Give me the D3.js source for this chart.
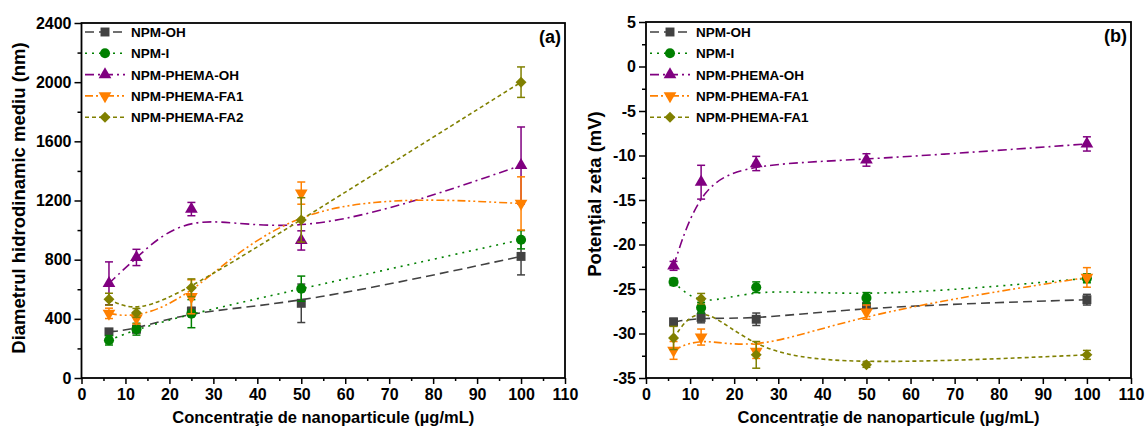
<!DOCTYPE html>
<html>
<head>
<meta charset="utf-8">
<script src="https://cdn.jsdelivr.net/npm/d3@7"></script>
<style>
  body { margin: 0; background: #fff; }
  svg text { font-family: "Liberation Sans", Arial, sans-serif; font-weight: bold; }
</style>
</head>
<body>
<svg id="chart" width="1148" height="429"></svg>
<script>
// concentratii (ug/mL)
const conc = [6.25, 12.5, 25, 50, 100];
const names = ["NPM-OH", "NPM-I", "NPM-PHEMA-OH", "NPM-PHEMA-FA1", "NPM-PHEMA-FA2"];
const namesB = ["NPM-OH", "NPM-I", "NPM-PHEMA-OH", "NPM-PHEMA-FA1", "NPM-PHEMA-FA1"];

// (a) diametru hidrodinamic (nm)
const dhOH = [312, 330, 452, 505, 822];
const dhOHerr = [15, 25, 25, 130, 125];
const dhI = [255, 330, 435, 604, 935];
const dhIerr = [32, 40, 95, 85, 62];
const dhPhemaOH = [640, 815, 1142, 930, 1437];
const dhPhemaOHerr = [145, 55, 45, 65, 260];
const dhFA1 = [437, 405, 549, 1250, 1180];
const dhFA1err = [35, 40, 115, 75, 180];
const dhFA2 = [533, 440, 610, 1069, 2000];
const dhFA2err = [40, 30, 60, 150, 103];

// (b) potential zeta (mV)
const zOH = [-28.7, -28.2, -28.4, -27.0, -26.2];
const zOHerr = [0.4, 0.6, 0.7, 0.5, 0.6];
const zI = [-24.2, -27.1, -24.8, -26.0, -23.8];
const zIerr = [0.4, 0.6, 0.6, 0.6, 0.5];
const zPhemaOH = [-22.4, -13.0, -10.9, -10.5, -8.7];
const zPhemaOHerr = [0.5, 1.9, 0.8, 0.7, 0.8];
const zFA1 = [-31.9, -30.4, -32.0, -27.6, -23.7];
const zFA1err = [1.0, 0.9, 0.8, 0.8, 1.1];
const zFA2 = [-30.5, -26.1, -32.4, -33.5, -32.4];
const zFA2err = [1.3, 0.6, 1.5, 0.3, 0.5];

const xTicks = d3.range(0, 111, 10);
const yTicksA = d3.range(0, 2401, 400);
const yTicksB = d3.range(-35, 6, 5);

// stiluri serii
const colors = ["#424242", "#008000", "#800080", "#ff8000", "#808000"];
const dashes = ["9,5", "2,5", "9,4,2,4", "8,3,2,3,2,3", "4,3"];
const symbols = [
  d3.symbol().type(d3.symbolSquare).size(80),
  d3.symbol().type(d3.symbolCircle).size(80),
  d3.symbol().type(d3.symbolTriangle).size(70),
  d3.symbol().type(d3.symbolTriangle).size(70),
  d3.symbol().type(d3.symbolSquare).size(60)
];
const rotations = [0, 0, 0, 180, 45];
const fmt = d => String(d);

const svg = d3.select("#chart");

function drawPanel(cfg) {
  const g = svg.append("g");
  const x = d3.scaleLinear().domain([0, 110]).range(cfg.xr);
  const y = d3.scaleLinear().domain(cfg.yd).range(cfg.yr);

  // axa X, ticks majore si minore
  g.append("g").attr("transform", `translate(0,${cfg.yr[0]})`)
    .call(d3.axisBottom(x).tickValues(d3.range(5, 111, 10)).tickSize(3).tickFormat(""))
    .call(a => a.select(".domain").remove());
  g.append("g").attr("transform", `translate(0,${cfg.yr[0]})`)
    .call(d3.axisBottom(x).tickValues(xTicks).tickSize(6).tickPadding(5).tickFormat(fmt))
    .call(a => a.select(".domain").remove())
    .call(a => a.selectAll("text").attr("font-size", 16).attr("fill", "#000"));

  // axa Y
  g.append("g").attr("transform", `translate(${cfg.xr[0]},0)`)
    .call(d3.axisLeft(y).tickValues(cfg.yMinor).tickSize(4).tickFormat(""))
    .call(a => a.select(".domain").remove());
  g.append("g").attr("transform", `translate(${cfg.xr[0]},0)`)
    .call(d3.axisLeft(y).tickValues(cfg.yTicks).tickSize(7).tickPadding(3).tickFormat(fmt))
    .call(a => a.select(".domain").remove())
    .call(a => a.selectAll("text").attr("font-size", 16).attr("fill", "#000"));
  g.selectAll(".tick line").attr("stroke", "#000").attr("stroke-width", 1.5);

  g.append("rect")
    .attr("x", cfg.xr[0]).attr("y", cfg.yr[1])
    .attr("width", cfg.xr[1] - cfg.xr[0]).attr("height", cfg.yr[0] - cfg.yr[1])
    .attr("fill", "none").attr("stroke", "#000").attr("stroke-width", 1.8);

  // curbe B-spline
  const line = d3.line().x(d => x(d[0])).y(d => y(d[1])).curve(d3.curveBasis);
  cfg.series.forEach((s, i) => {
    g.append("path")
      .datum(conc.map((c, k) => [c, s.v[k]]))
      .attr("d", line)
      .attr("fill", "none")
      .attr("stroke", colors[i])
      .attr("stroke-width", 1.6)
      .attr("stroke-dasharray", dashes[i]);
  });

  // bare de eroare + markeri
  cfg.series.forEach((s, i) => {
    const eg = g.append("g").attr("stroke", colors[i]).attr("stroke-width", 1.5);
    conc.forEach((c, k) => {
      const cx = x(c), y1 = y(s.v[k] + s.e[k]), y2 = y(s.v[k] - s.e[k]);
      eg.append("line").attr("x1", cx).attr("x2", cx).attr("y1", y1).attr("y2", y2);
      eg.append("line").attr("x1", cx - 4).attr("x2", cx + 4).attr("y1", y1).attr("y2", y1);
      eg.append("line").attr("x1", cx - 4).attr("x2", cx + 4).attr("y1", y2).attr("y2", y2);
    });
    g.selectAll(null).data(conc).enter().append("path")
      .attr("d", symbols[i])
      .attr("transform", (c, k) => `translate(${x(c)},${y(s.v[k])}) rotate(${rotations[i]})`)
      .attr("fill", colors[i]);
  });

  // legenda
  const lg = g.append("g");
  cfg.names.forEach((n, i) => {
    const ly = cfg.legY + i * 21.3;
    lg.append("line")
      .attr("x1", cfg.legX).attr("x2", cfg.legX + 40)
      .attr("y1", ly).attr("y2", ly)
      .attr("stroke", colors[i]).attr("stroke-width", 1.6)
      .attr("stroke-dasharray", dashes[i]);
    lg.append("path").attr("d", symbols[i])
      .attr("transform", `translate(${cfg.legX + 20},${ly}) rotate(${rotations[i]})`)
      .attr("fill", colors[i]);
    lg.append("text").attr("x", cfg.legX + 46).attr("y", ly + 5)
      .attr("font-size", 13.5).text(n);
  });

  g.append("text").attr("x", cfg.xr[1] - 4).attr("y", cfg.yr[1] + 20)
    .attr("text-anchor", "end").attr("font-size", 18).text(cfg.tag);

  g.append("text")
    .attr("x", (cfg.xr[0] + cfg.xr[1]) / 2).attr("y", 423)
    .attr("text-anchor", "middle").attr("font-size", 16.5)
    .text("Concentraţie de nanoparticule (µg/mL)");

  g.append("text")
    .attr("transform", `translate(${cfg.yLabX},${cfg.yLabY}) rotate(-90)`)
    .attr("text-anchor", "middle").attr("font-size", 18.5)
    .text(cfg.yLabel);
}

drawPanel({
  xr: [81.5, 565], yr: [378, 23], yd: [0, 2400],
  yTicks: yTicksA, yMinor: d3.range(200, 2400, 400),
  series: [
    { v: dhOH, e: dhOHerr }, { v: dhI, e: dhIerr }, { v: dhPhemaOH, e: dhPhemaOHerr },
    { v: dhFA1, e: dhFA1err }, { v: dhFA2, e: dhFA2err }
  ],
  names: names, legX: 85, legY: 32, tag: "(a)",
  yLabX: 25, yLabY: 198, yLabel: "Diametrul hidrodinamic mediu (nm)"
});

drawPanel({
  xr: [646, 1131], yr: [378, 22], yd: [-35, 5],
  yTicks: yTicksB, yMinor: d3.range(-32.5, 5, 5),
  series: [
    { v: zOH, e: zOHerr }, { v: zI, e: zIerr }, { v: zPhemaOH, e: zPhemaOHerr },
    { v: zFA1, e: zFA1err }, { v: zFA2, e: zFA2err }
  ],
  names: namesB, legX: 650, legY: 32, tag: "(b)",
  yLabX: 601, yLabY: 194, yLabel: "Potenţial zeta (mV)"
});
</script>
</body>
</html>
